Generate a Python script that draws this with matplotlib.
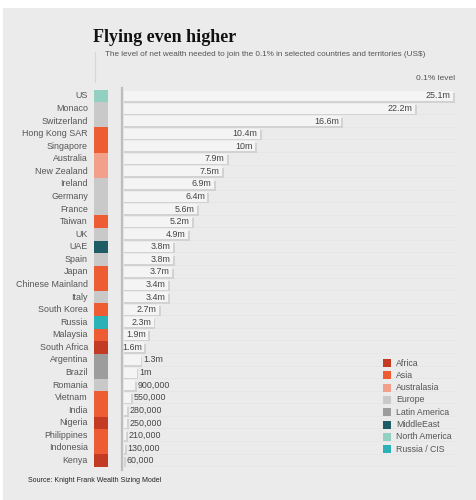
import matplotlib
matplotlib.use("Agg")
import matplotlib.pyplot as plt
from matplotlib.patches import Rectangle
from matplotlib.lines import Line2D

countries = ["US", "Monaco", "Switzerland", "Hong Kong SAR", "Singapore", "Australia",
             "New Zealand", "Ireland", "Germany", "France", "Taiwan", "UK", "UAE", "Spain",
             "Japan", "Chinese Mainland", "Italy", "South Korea", "Russia", "Malaysia",
             "South Africa", "Argentina", "Brazil", "Romania", "Vietnam", "India", "Nigeria",
             "Philippines", "Indonesia", "Kenya"]
values_m = [25.1, 22.2, 16.6, 10.4, 10.0, 7.9, 7.5, 6.9, 6.4, 5.6, 5.2, 4.9, 3.8, 3.8,
            3.7, 3.4, 3.4, 2.7, 2.3, 1.9, 1.6, 1.3, 1.0, 0.9, 0.55, 0.28, 0.25, 0.21, 0.13, 0.06]
value_labels = ["25.1m", "22.2m", "16.6m", "10.4m", "10m", "7.9m", "7.5m", "6.9m", "6.4m",
                "5.6m", "5.2m", "4.9m", "3.8m", "3.8m", "3.7m", "3.4m", "3.4m", "2.7m", "2.3m",
                "1.9m", "1.6m", "1.3m", "1m", "900,000", "550,000", "280,000", "250,000",
                "210,000", "130,000", "60,000"]
regions = ["North America", "Europe", "Europe", "Asia", "Asia", "Australasia", "Australasia",
           "Europe", "Europe", "Europe", "Asia", "Europe", "MiddleEast", "Europe", "Asia", "Asia",
           "Europe", "Asia", "Russia / CIS", "Asia", "Africa", "Latin America", "Latin America",
           "Europe", "Asia", "Asia", "Africa", "Asia", "Asia", "Africa"]
legend_names = ["Africa", "Asia", "Australasia", "Europe", "Latin America", "MiddleEast",
                "North America", "Russia / CIS"]
legend_colors = ["#c23b22", "#ee5c33", "#f3a08a", "#c9c9c9", "#9d9d9d", "#1e5d66",
                 "#93d0c2", "#2bb2b9"]
region_color = dict(zip(legend_names, legend_colors))

W, H = 477, 500
fig = plt.figure(figsize=(W / 100, H / 100), dpi=100, facecolor="white")
plt.rcParams['font.family'] = ['Liberation Sans', 'DejaVu Sans']

def fx(px):
    return px / W

def fy(py):
    return 1 - py / H

# grey panel background
fig.patches.append(Rectangle((fx(3), 0), 1, fy(8), transform=fig.transFigure,
                             facecolor="#ebebeb", edgecolor="none", zorder=-10))

# layout in pixels
row0, pitch = 96.0, 12.57
top_px, bot_px = 83.0, 470.0
y_top = (top_px - row0) / pitch
y_bot = (bot_px - row0) / pitch
scale = 13.12  # px per million
ax_left, ax_right = 123.5, 472.0

# vertical axis line
fig.add_artist(Line2D([fx(122), fx(122)], [fy(88), fy(470)], color="#bdbdbd", lw=1.6, zorder=-5))

ax = fig.add_axes([fx(ax_left), fy(bot_px), (ax_right - ax_left) / W, (bot_px - top_px) / H])
ax.set_xlim(0, (ax_right - ax_left) / scale)
ax.set_ylim(y_bot, y_top)
ax.axis("off")
ax.patch.set_alpha(0)

n = len(countries)
bh = 0.8
sx = 1.8 / scale
sy = 1.6 / pitch
maxv = max(values_m)
for i, (v, lab) in enumerate(zip(values_m, value_labels)):
    # faint track
    ax.plot([0, maxv + 0.3], [i + bh / 2 + 0.05] * 2, color="#e4e4e4", lw=0.5, zorder=0.5)
    # shadow
    ax.add_patch(Rectangle((0, i - bh / 2 + sy), v + sx, bh, facecolor="#d2d2d2",
                           edgecolor="none", zorder=1))
    ax.add_patch(Rectangle((0, i - bh / 2), v, bh, facecolor="#f4f4f4",
                           edgecolor="none", zorder=2))
    if v >= 1.5:
        ax.text(v - 2.5 / scale, i, lab, ha="right", va="center", fontsize=6.4,
                color="#444444", zorder=3)
    else:
        ax.text(v + 2.5 / scale, i, lab, ha="left", va="center", fontsize=6.4,
                color="#444444", zorder=3)

# color column
cax = fig.add_axes([fx(94), fy(bot_px), 14 / W, (bot_px - top_px) / H])
cax.set_xlim(0, 1)
cax.set_ylim(y_bot, y_top)
cax.axis("off")
cax.patch.set_alpha(0)
cax.barh(range(n), [1] * n, height=1.0, color=[region_color[r] for r in regions])

# country labels
for i, c in enumerate(countries):
    fig.text(fx(88), fy(row0 + pitch * i), c, ha="right", va="center", fontsize=6.4,
             color="#555555")

# title, subtitle
fig.text(fx(93), fy(38), "Flying even higher", ha="left", va="center", fontsize=13,
         fontweight="bold", family=["Liberation Serif", "DejaVu Serif"], color="#111111")
fig.text(fx(105), fy(55), "The level of net wealth needed to join the 0.1% in selected countries and territories (US$)",
         ha="left", va="center", fontsize=5.9, color="#555555")
fig.add_artist(Line2D([fx(95), fx(95)], [fy(52), fy(82)], color="#e6cfcf", lw=0.8))
fig.text(fx(455), fy(78), "0.1% level", ha="right", va="center", fontsize=6.0, color="#555555")

# legend
for k, (name, col) in enumerate(zip(legend_names, legend_colors)):
    yy = 363 + 12.3 * k
    fig.patches.append(Rectangle((fx(383), fy(yy + 4)), 8 / W, 8 / H, transform=fig.transFigure,
                                 facecolor=col, edgecolor="none"))
    fig.text(fx(396), fy(yy), name, ha="left", va="center", fontsize=6.3, color="#555555")

fig.text(fx(28), fy(481), "Source: Knight Frank Wealth Sizing Model", ha="left", va="center",
         fontsize=5.0, color="#222222")

fig.savefig("out.png", dpi=100, facecolor=fig.get_facecolor())
